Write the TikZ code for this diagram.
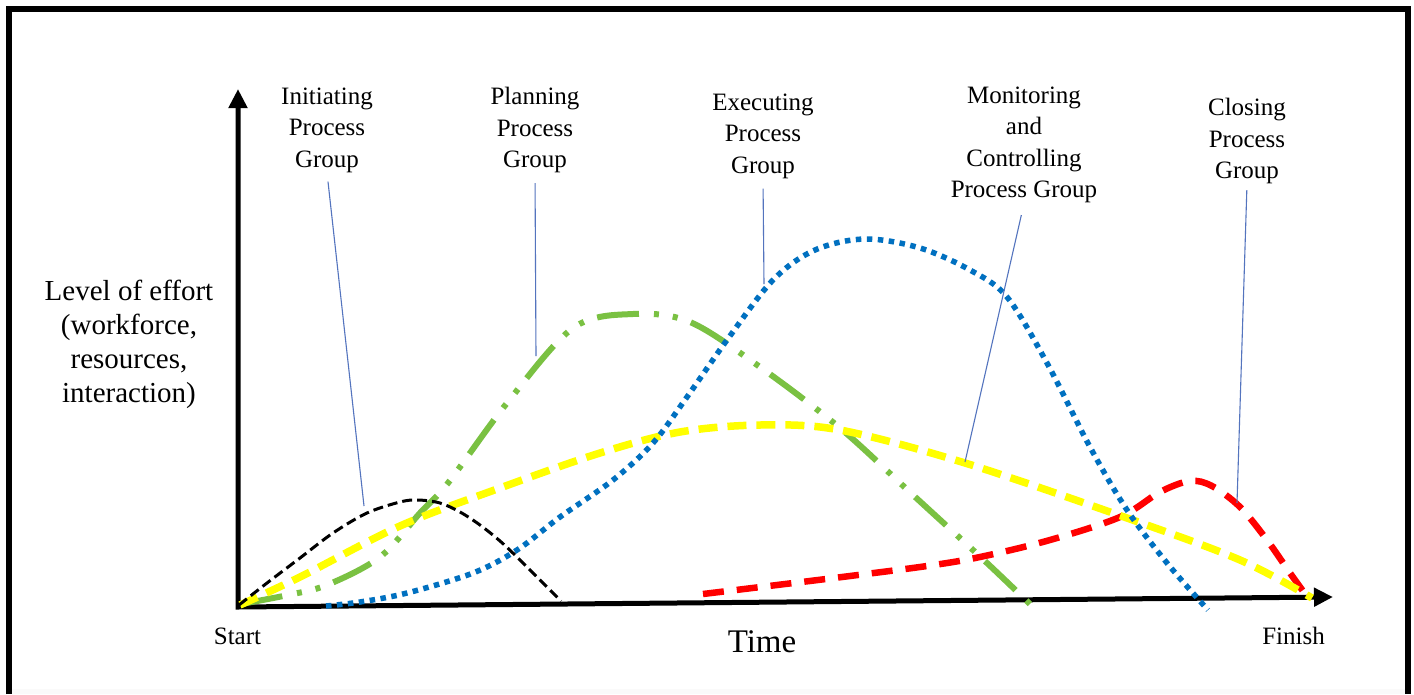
\documentclass[tikz,border=0pt]{standalone}
\usepackage{fontspec}
\setmainfont{Liberation Serif}
\usetikzlibrary{arrows.meta}
\definecolor{cgreen}{RGB}{122,193,66}
\definecolor{cblue}{RGB}{0,112,192}
\definecolor{cred}{RGB}{255,0,0}
\definecolor{cyellow}{RGB}{255,255,0}
\definecolor{cleader}{RGB}{84,116,190}
\begin{document}
\begin{tikzpicture}[x=1pt,y=-1pt,
  frameline/.style={line width=6pt, line join=miter},
  axisline/.style={line width=5pt, line join=miter, {Triangle[length=19pt,width=18pt]}-{Triangle[length=19pt,width=18pt]}},
  grplabel/.style={font=\fontsize{25}{31.5}\selectfont, align=center, inner sep=0pt},
  ylabel/.style={font=\fontsize{29}{34}\selectfont, align=center, inner sep=0pt},
  endlabel/.style={font=\fontsize{25}{30}\selectfont, inner sep=0pt},
  leader/.style={draw=cleader, line width=1.1pt},
  initcurve/.style={black, line width=3pt, dash pattern=on 10pt off 5pt},
  plancurve/.style={cgreen, line width=6pt, dash pattern=on 42pt off 15pt on 5pt off 14pt on 5pt off 14pt},
  execcurve/.style={cblue, line width=5.5pt, dash pattern=on 5.5pt off 5.5pt},
  moncurve/.style={cyellow, line width=7.5pt, dash pattern=on 19pt off 10pt},
  closecurve/.style={cred, line width=6.5pt, dash pattern=on 21pt off 13pt},
  curve/.style={smooth, tension=0.55}
]
\useasboundingbox (0,0) rectangle (1414,694);
\fill[white] (0,0) rectangle (1414,694);
\fill[gray!4] (12,689) rectangle (1405,694);
% frame
\draw[frameline] (9,694) -- (9,9) -- (1407.5,9) -- (1407.5,694);

% axes
\coordinate (ytip) at (238,89);
\coordinate (orig) at (238,607);
\coordinate (xtip) at (1333,597);
\draw[axisline] (ytip) -- (orig) -- (xtip);

% curves
\draw[closecurve] plot[curve] coordinates {(703,594) (777,585) (850,576) (927,566) (980,557) (1050,540) (1120,517) (1160,492) (1190,481) (1212,486) (1240,507) (1267,540) (1290,573) (1308,598)};
\draw[plancurve] plot[curve] coordinates {(241,604) (288,595) (327,585) (380,557) (420,513) (448,483) (507,403) (573,328) (633,314) (690,322) (760,367) (840,428) (913,495) (987,563) (1033,607)};
\draw[moncurve] plot[curve] coordinates {(240,605) (300,577) (400,526) (500,488) (600,453) (680,432) (760,425) (840,430) (965,463) (1127,518) (1240,560) (1312,598)};
\draw[execcurve] plot[curve] coordinates {(326,606) (360,602) (407,593) (473,573) (517,550) (560,517) (613,480) (653,443) (687,397) (727,340) (773,280) (815,250) (865,239) (920,248) (970,270) (1007,297) (1047,363) (1090,447) (1127,510) (1167,563) (1208,610)};
\draw[initcurve] plot[curve] coordinates {(239,605) (267,583) (300,558) (333,533) (367,513) (400,502) (418,500) (440,503) (460,512) (480,525) (500,541) (517,557) (533,573) (550,590) (561,601)};

% labels
\node[grplabel] (lblInit) at (327,130) {Initiating\\Process\\Group};
\node[grplabel] (lblPlan) at (535,130) {Planning\\Process\\Group};
\node[grplabel] (lblExec) at (763,136) {Executing\\Process\\Group};
\node[grplabel] (lblMon) at (1024,145) {Monitoring\\and\\Controlling\\Process Group};
\node[grplabel] (lblClose) at (1247,141) {Closing\\Process\\Group};
\node[ylabel] (lblEffort) at (129,344) {Level of effort\\(workforce,\\resources,\\interaction)};
\node[font=\fontsize{33}{38}\selectfont, inner sep=0pt] (lblTime) at (762,642) {Time};
\node[endlabel] (lblStart) at (237.5,636.5) {Start};
\node[endlabel] (lblFinish) at (1293.5,636) {Finish};

% leader lines
\coordinate (ptInit) at (364,506);
\coordinate (ptPlan) at (536,356);
\coordinate (ptExec) at (764,284);
\coordinate (ptMon) at (965,462);
\coordinate (ptClose) at (1237,503);
\draw[leader, shorten <=9pt] (lblInit.south) -- (ptInit);
\draw[leader, shorten <=10pt] (lblPlan.south) -- (ptPlan);
\draw[leader, shorten <=10pt] (lblExec.south) -- (ptExec);
\draw[leader, shorten <=12pt] (lblMon.south) -- (ptMon);
\draw[leader, shorten <=6pt] (lblClose.south) -- (ptClose);
\end{tikzpicture}
\end{document}
